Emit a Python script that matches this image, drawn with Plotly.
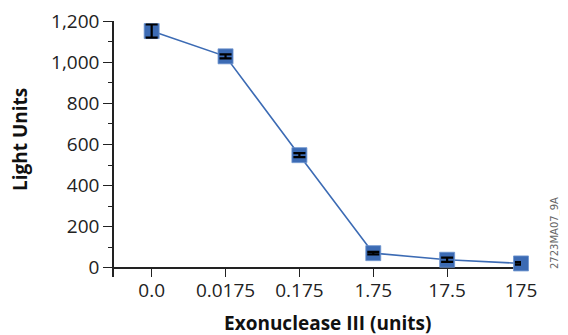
import plotly.graph_objects as go

categories = ["0.0", "0.0175", "0.175", "1.75", "17.5", "175"]
light_units = [1152, 1029, 548, 71, 39, 21]
errors = [32, 10, 10, 6, 10, 6]
y_tick_vals = [0, 200, 400, 600, 800, 1000, 1200]
y_tick_text = ["0", "200", "400", "600", "800", "1,000", "1,200"]

blue = "#3c6bb4"
tick_font = dict(family="Open Sans, Lato, sans-serif", size=19, color="#222")
title_font = dict(family="Open Sans, Roboto, sans-serif", size=19, color="#111", weight="bold")

# page body has an 8px margin; figure is sized so plot area lands where the reference has it
OFF = 8
W, H = 568 - OFF, 335 - OFF
L, R, T, B = 114 - OFF, 47, 21 - OFF, 58

fig = go.Figure()
fig.add_trace(go.Scatter(
    x=categories, y=light_units,
    mode="lines+markers",
    line=dict(color=blue, width=1.6),
    marker=dict(symbol="square", size=15, color=blue, line=dict(color="#6f95cf", width=0.8)),
    cliponaxis=False,
))
# error bars drawn above the markers
fig.add_trace(go.Scatter(
    x=categories, y=light_units,
    mode="markers",
    marker=dict(size=1, color="rgba(0,0,0,0)"),
    error_y=dict(type="data", array=errors, color="black", thickness=2.2, width=6),
    cliponaxis=False,
    hoverinfo="skip",
))

def px_x(x):
    return (x - OFF - L) / (W - L - R)

def px_y(y):
    return (335 - y - B) / (H - T - B)

fig.update_layout(
    width=W, height=H,
    margin=dict(l=L, r=R, t=T, b=B, autoexpand=False),
    paper_bgcolor="white", plot_bgcolor="white",
    showlegend=False,
    xaxis=dict(
        type="category", range=[-0.51, 5.0], automargin=False,
        showgrid=False, showline=False, zeroline=False,
        ticks="inside", ticklen=9, tickwidth=1.3, tickcolor="#222",
        tickfont=tick_font,
    ),
    yaxis=dict(
        range=[-45, 1201], automargin=False,
        showgrid=False, showline=True, linecolor="#222", linewidth=1.5,
        zeroline=True, zerolinecolor="#222", zerolinewidth=1.5,
        ticks="outside", ticklen=9, tickwidth=1.3, tickcolor="#222",
        tickvals=y_tick_vals, ticktext=y_tick_text,
        tickfont=tick_font, ticklabeloverflow="allow",
        minor=dict(dtick=100, tick0=0, ticks="outside", ticklen=4, tickwidth=1.3, tickcolor="#222"),
    ),
    annotations=[
        dict(text="Exonuclease III (units)", x=px_x(327), y=px_y(323), xref="paper", yref="paper",
             xanchor="center", yanchor="middle", showarrow=False, font=title_font),
        dict(text="Light Units", x=px_x(20), y=px_y(140), xref="paper", yref="paper",
             xanchor="center", yanchor="middle", showarrow=False, textangle=-90, font=title_font),
        dict(text="2723MA07_9A", x=px_x(563), y=px_y(195), xref="paper", yref="paper",
             xanchor="right", yanchor="top", showarrow=False, textangle=-90,
             font=dict(family="DejaVu Sans, sans-serif", size=10, color="#666")),
    ],
)

fig.write_html("out.html")
